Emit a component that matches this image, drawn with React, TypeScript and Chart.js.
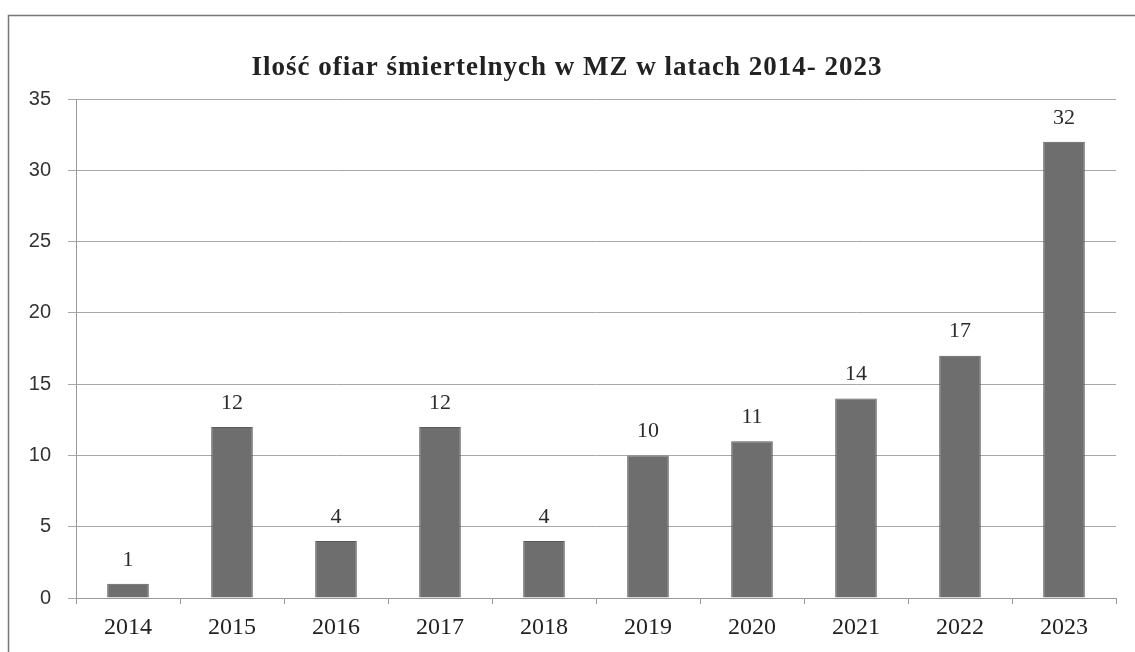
import React, { useEffect, useRef } from "react";
import { Chart, registerables } from "chart.js";

Chart.register(...registerables);

const years = ["2014", "2015", "2016", "2017", "2018", "2019", "2020", "2021", "2022", "2023"];
const deaths = [1, 12, 4, 12, 4, 10, 11, 14, 17, 32];
const yTicks = [0, 5, 10, 15, 20, 25, 30, 35];
const titleText = "Ilość ofiar śmiertelnych w MZ w latach 2014- 2023";

export default function App() {
  const ref = useRef<HTMLCanvasElement | null>(null);
  useEffect(() => {
    document.body.style.margin = "0";
    const canvas = ref.current!;
    const labelsPlugin = {
      id: "valueLabels",
      afterDatasetsDraw(chart: any) {
        const ctx = chart.ctx;
        const meta = chart.getDatasetMeta(0);
        ctx.save();
        ctx.font = '22px "Liberation Serif"';
        ctx.fillStyle = "#2a2a2a";
        ctx.textAlign = "center";
        ctx.textBaseline = "middle";
        meta.data.forEach((bar: any, i: number) => {
          ctx.fillText(String(chart.data.datasets[0].data[i]), bar.x, bar.y - 24);
        });
        ctx.restore();
      },
    };
    const framePlugin = {
      id: "frame",
      beforeDraw(chart: any) {
        const ctx = chart.ctx;
        ctx.save();
        ctx.fillStyle = "#fff";
        ctx.fillRect(0, 0, chart.width, chart.height);
        ctx.strokeStyle = "#777";
        ctx.lineWidth = 1.5;
        ctx.beginPath();
        ctx.moveTo(8.5, 652);
        ctx.lineTo(8.5, 15.5);
        ctx.lineTo(1135, 15.5);
        ctx.stroke();
        ctx.font = 'bold 27px "Liberation Serif"';
        (ctx as any).letterSpacing = "1px";
        ctx.fillStyle = "#222";
        ctx.textAlign = "center";
        ctx.textBaseline = "middle";
        ctx.fillText(titleText, 567, 68);
        ctx.restore();
      },
    };
    const chart = new Chart(canvas, {
      type: "bar",
      data: {
        labels: years,
        datasets: [
          {
            data: deaths,
            backgroundColor: "#6e6e6e",
            borderColor: "#5a5a5a",
            borderWidth: 1,
            barPercentage: 0.8,
            categoryPercentage: 0.5,
          },
        ],
      },
      options: {
        responsive: false,
        animation: false,
        layout: { padding: { top: 99, right: 19, left: 0, bottom: 0 } },
        plugins: {
          legend: { display: false },
          title: { display: false },
          tooltip: { enabled: false },
        },
        scales: {
          x: {
            grid: {
              offset: true,
              drawOnChartArea: false,
              drawTicks: true,
              tickLength: 6,
              color: "#999",
            },
            border: { color: "#999", width: 1 },
            ticks: {
              font: { family: "Liberation Serif", size: 24 },
              color: "#222",
              padding: 9,
            },
            afterFit(scale: any) {
              scale.height = 652 - 598;
            },
          },
          y: {
            min: 0,
            max: 35,
            afterBuildTicks(scale: any) {
              scale.ticks = yTicks.map((v) => ({ value: v }));
            },
            grid: { color: "#a8a8a8", tickLength: 8, lineWidth: 1 },
            border: { color: "#999", width: 1 },
            ticks: {
              font: { family: "Liberation Sans", size: 20 },
              color: "#333",
              padding: 17,
            },
            afterFit(scale: any) {
              scale.width = 76;
            },
          },
        },
      },
      plugins: [framePlugin, labelsPlugin],
    });
    return () => chart.destroy();
  }, []);
  return <canvas ref={ref} width={1135} height={652} style={{ display: "block" }} />;
}
